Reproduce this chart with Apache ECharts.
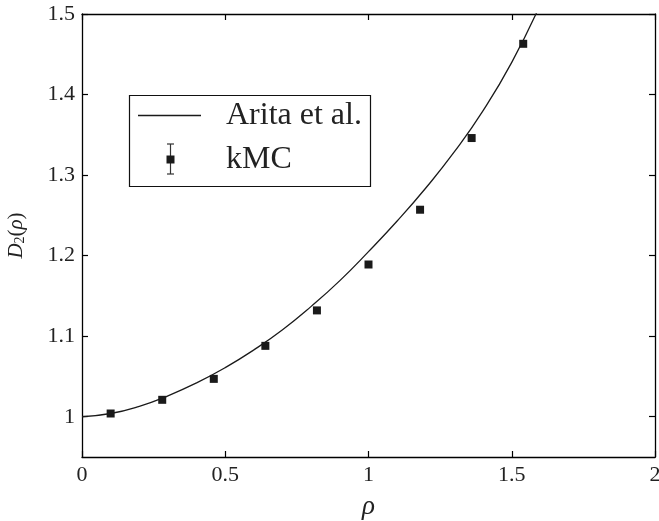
<!DOCTYPE html>
<html>
<head>
<meta charset="utf-8">
<script src="https://cdn.jsdelivr.net/npm/echarts@6/dist/echarts.min.js"></script>
<style>html,body{margin:0;padding:0;background:#fff}#c{width:659px;height:521px}</style>
</head>
<body>
<div id="c"></div>
<script>
// Arita et al. curve
const curveRho = [0, 0.1, 0.2, 0.3, 0.4, 0.5, 0.6, 0.7, 0.8, 0.9, 1.0, 1.1, 1.2, 1.3, 1.4, 1.5, 1.6];
const curveD   = [1.000, 1.004, 1.013, 1.026, 1.042, 1.061, 1.083, 1.108, 1.137, 1.169, 1.205, 1.243, 1.284, 1.329, 1.380, 1.440, 1.512];
// kMC points
const kmcRho = [0.10, 0.28, 0.46, 0.64, 0.82, 1.00, 1.18, 1.36, 1.54];
const kmcD   = [1.004, 1.021, 1.047, 1.088, 1.132, 1.189, 1.257, 1.346, 1.463];
// tick labels
const xTicks = [0, 0.5, 1, 1.5, 2];
const yTicks = [1, 1.1, 1.2, 1.3, 1.4, 1.5];

const FONT = '"Liberation Serif", "DejaVu Serif", serif';
const chart = echarts.init(document.getElementById('c'), null, {renderer: 'canvas'});

const tickStyle = {show: true, inside: true, length: 6, lineStyle: {color: '#000', width: 1.2}};
const lineStyleAx = {show: true, onZero: false, lineStyle: {color: '#000', width: 1.3}};

chart.setOption({
  animation: false,
  backgroundColor: '#fff',
  grid: {left: 82, right: 4, top: 14, bottom: 64, containLabel: false, outerBoundsMode: 'none'},
  xAxis: [{
    type: 'value', min: xTicks[0], max: xTicks[xTicks.length - 1], interval: 0.5,
    position: 'bottom',
    axisLine: lineStyleAx, axisTick: tickStyle, splitLine: {show: false},
    axisLabel: {color: '#222', fontFamily: FONT, fontSize: 22, margin: 7,
      formatter: v => String(v)},
    name: 'ρ', nameLocation: 'middle', nameGap: 36,
    nameTextStyle: {fontFamily: FONT, fontStyle: 'italic', fontSize: 27, color: '#222'}
  }, {
    type: 'value', min: xTicks[0], max: xTicks[xTicks.length - 1], interval: 0.5,
    position: 'top',
    axisLine: lineStyleAx, axisTick: tickStyle, splitLine: {show: false},
    axisLabel: {show: false}
  }],
  yAxis: [{
    type: 'value', min: 0.95, max: 1.5,
    position: 'left',
    axisLine: lineStyleAx,
    axisTick: Object.assign({}, tickStyle, {customValues: yTicks}),
    splitLine: {show: false},
    axisLabel: {color: '#222', fontFamily: FONT, fontSize: 22, margin: 7,
      customValues: yTicks, formatter: v => String(Math.round(v * 10) / 10)},
    name: '{i|D}{s|2}{n|(}{i|ρ}{n|)}', nameLocation: 'middle', nameGap: 55, nameRotate: 90,
    nameTextStyle: {fontFamily: FONT, fontSize: 21, color: '#222',
      rich: {
        i: {fontFamily: FONT, fontStyle: 'italic', fontSize: 21, color: '#222'},
        s: {fontFamily: FONT, fontSize: 14, color: '#222', padding: [8, 0, 0, 0]},
        n: {fontFamily: FONT, fontSize: 21, color: '#222'}
      }}
  }, {
    type: 'value', min: 0.95, max: 1.5,
    position: 'right',
    axisLine: lineStyleAx,
    axisTick: Object.assign({}, tickStyle, {customValues: yTicks}),
    splitLine: {show: false},
    axisLabel: {show: false}
  }],
  series: [{
    name: 'Arita et al.', type: 'line', xAxisIndex: 0, yAxisIndex: 0,
    data: curveRho.map((r, i) => [r, curveD[i]]),
    smooth: true, showSymbol: false, symbol: 'none', clip: true,
    lineStyle: {color: '#1a1a1a', width: 1.3}, z: 3
  }, {
    name: 'kMC', type: 'scatter', xAxisIndex: 0, yAxisIndex: 0,
    data: kmcRho.map((r, i) => [r, kmcD[i]]),
    symbol: 'rect', symbolSize: 8,
    itemStyle: {color: '#1a1a1a', opacity: 1}, z: 4
  }],
  graphic: [
    {type: 'rect', shape: {x: 129.5, y: 95.5, width: 241, height: 91},
     style: {fill: '#fff', stroke: '#111', lineWidth: 1.2}, z: 10},
    {type: 'line', shape: {x1: 138, y1: 115.5, x2: 201, y2: 115.5},
     style: {stroke: '#1a1a1a', lineWidth: 1.3}, z: 11},
    {type: 'line', shape: {x1: 170.5, y1: 144, x2: 170.5, y2: 174},
     style: {stroke: '#333', lineWidth: 1.2}, z: 11},
    {type: 'line', shape: {x1: 167, y1: 144, x2: 174, y2: 144},
     style: {stroke: '#333', lineWidth: 1.2}, z: 11},
    {type: 'line', shape: {x1: 167, y1: 174, x2: 174, y2: 174},
     style: {stroke: '#333', lineWidth: 1.2}, z: 11},
    {type: 'rect', shape: {x: 166.5, y: 155.5, width: 8, height: 8},
     style: {fill: '#1a1a1a'}, z: 12},
    {type: 'text', x: 226, y: 116, z: 11,
     style: {text: 'Arita et al.', fontFamily: FONT, fontSize: 32, fill: '#222', verticalAlign: 'middle', align: 'left'}},
    {type: 'text', x: 226, y: 160, z: 11,
     style: {text: 'kMC', fontFamily: FONT, fontSize: 32, fill: '#222', verticalAlign: 'middle', align: 'left'}}
  ]
});
</script>
</body>
</html>
